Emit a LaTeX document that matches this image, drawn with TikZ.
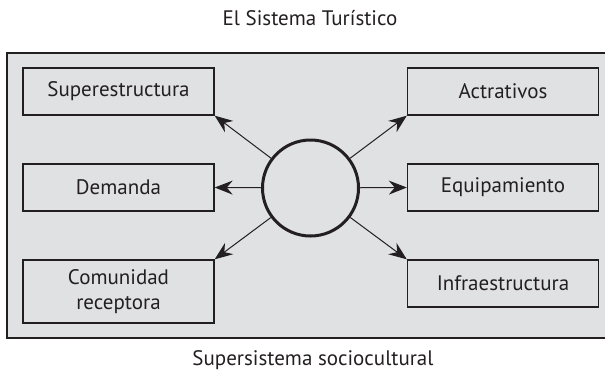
\documentclass[tikz,border=0pt]{standalone}
\usepackage{fontspec}
\setmainfont{PT Sans}
\usetikzlibrary{arrows.meta}
\definecolor{panelgray}{RGB}{224,225,227}
\definecolor{inkgray}{RGB}{35,31,32}
\tikzset{
  part/.style={draw=inkgray, line width=0.7pt, fill=panelgray, minimum width=95.5pt, minimum height=23.5pt, inner sep=0pt, align=center, font=\fontsize{10.5}{12.5}\selectfont, text=inkgray},
  link/.style={draw=inkgray, line width=0.5pt, -{Stealth[length=9pt,width=7pt,inset=3pt]}}
}
\begin{document}
\begin{tikzpicture}[x=0.5pt,y=-0.5pt]
      \useasboundingbox (0,0) rectangle (605,377);
      \draw[draw=inkgray, line width=1.2pt, fill=panelgray] (7,53) rectangle (620,338);
      \draw
        (310,18) node[font=\fontsize{10.5}{12.5}\selectfont, text=inkgray] (title){El Sistema Turístico}
        (313,360) node[font=\fontsize{10.5}{12.5}\selectfont, text=inkgray] (super){Supersistema sociocultural}
        (310.5,188) node[circle, draw=inkgray, line width=1.5pt, minimum size=48pt, inner sep=0pt] (core){}
        (118.5,91.5) node[part] (sup){Superestructura}
        (118.5,187.5) node[part] (dem){Demanda}
        (118.5,291.5) node[part, minimum height=31.5pt] (com){Comunidad\\receptora}
        (503,91.5) node[part] (act){Actrativos}
        (503,187.5) node[part] (equ){Equipamiento}
        (503,283.5) node[part] (inf){Infraestructura};
      \begin{scope}[link]
        \draw (core) to (sup.south east);
        \draw (core) to (dem.east);
        \draw (core) to (com.north east);
        \draw (core) to (act.south west);
        \draw (core) to (equ.west);
        \draw (core) to (inf.north west);
      \end{scope}
    \end{tikzpicture}
\end{document}
